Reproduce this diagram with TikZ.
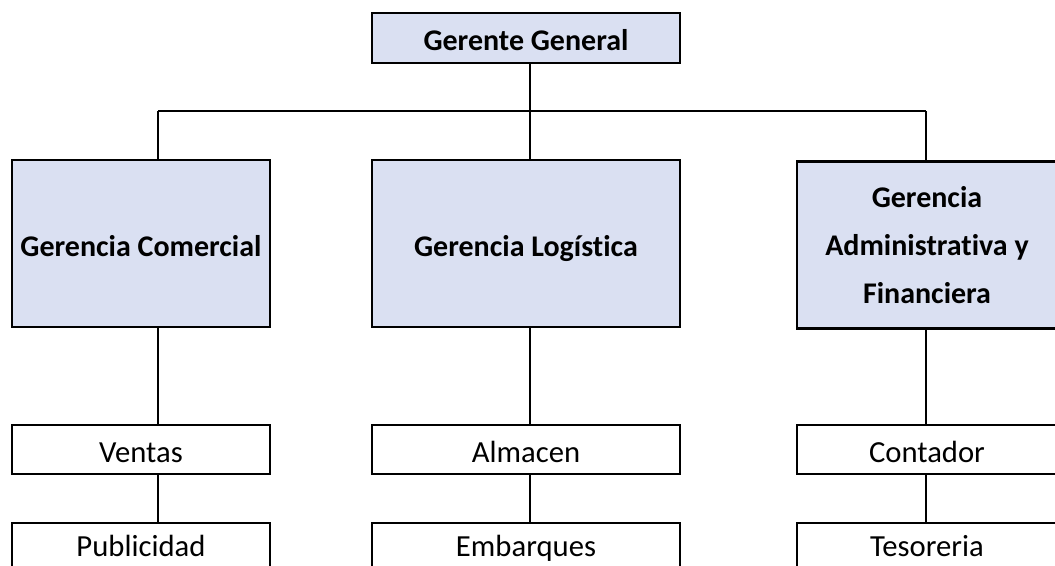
\documentclass[tikz,border=0pt]{standalone}
\usepackage{fontspec}
\setmainfont{Carlito}[Ligatures=NoCommon]
\usepackage{tikz}
\usetikzlibrary{positioning, calc}

\definecolor{mgrblue}{RGB}{218,224,242}

\begin{document}
\begin{tikzpicture}[
  x=0.75pt, y=-0.75pt,
  font=\fontsize{23}{36}\selectfont,
  box/.style={draw, line width=2.2pt, inner sep=0pt, align=center},
  head/.style={box, fill=mgrblue, font=\fontsize{22.5}{36}\selectfont\bfseries},
  one/.style={text height=19pt, text depth=0pt},
  sub/.style={box, one, fill=white, minimum height=36.75pt},
  link/.style={line width=1.5pt},
]
  \useasboundingbox (0,0) rectangle (1055,565);
  \clip (0,0) rectangle (1055,565);

  \node[head, one, minimum width=231pt, minimum height=37.5pt] (gg) at (526,38) {Gerente General};

  \node[head, one, minimum width=193.5pt, minimum height=125.25pt] (com) at (141,243.5) {Gerencia Comercial};
  \node[head, one, minimum width=231pt, minimum height=125.25pt] (log) at (526,243.5) {Gerencia Logística};
  \node[head, minimum width=195pt, minimum height=125.25pt] (adm) at (927,245) {Gerencia\\Administrativa y\\Financiera};

  \node[sub, minimum width=193.5pt] (ven) at (141,449.5) {Ventas};
  \node[sub, minimum width=231pt] (alm) at (526,449.5) {Almacen};
  \node[sub, minimum width=195pt] (con) at (927,449.5) {Contador};

  % last row runs past the lower edge
  \node[sub, text height=14pt, minimum width=193.5pt] (pub) at (141,547.5) {Publicidad};
  \node[sub, text height=14pt, minimum width=231pt] (emb) at (526,547.5) {Embarques};
  \node[sub, text height=14pt, minimum width=195pt] (tes) at (927,547.5) {Tesoreria};

  % bus under the general manager
  \coordinate (cl) at (158,111);
  \coordinate (cm) at (530,111);
  \coordinate (cr) at (926,111);

  \draw[link] (gg.south -| cm) -- (cm);
  \draw[link] (cl) -- (cr);
  \draw[link] (cl) -- (cl |- com.north);
  \draw[link] (cm) -- (cm |- log.north);
  \draw[link] (cr) -- (cr |- adm.north);

  \draw[link] (com.south -| cl) -- (ven.north -| cl);
  \draw[link] (log.south -| cm) -- (alm.north -| cm);
  \draw[link] (adm.south -| cr) -- (con.north -| cr);

  \draw[link] (ven.south -| cl) -- (pub.north -| cl);
  \draw[link] (alm.south -| cm) -- (emb.north -| cm);
  \draw[link] (con.south -| cr) -- (tes.north -| cr);
\end{tikzpicture}
\end{document}
